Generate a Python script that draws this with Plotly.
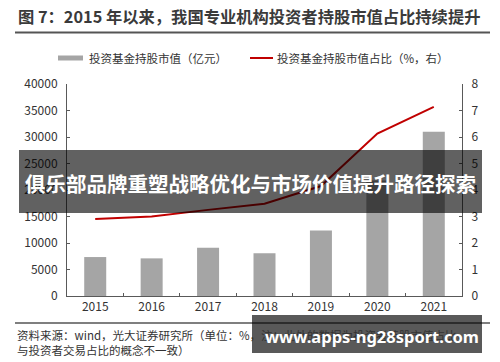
import plotly.graph_objects as go

years = ["2015", "2016", "2017", "2018", "2019", "2020", "2021"]
fund_value = [7350, 7100, 9100, 8050, 12350, 21800, 31000]
fund_share = [2.91, 3.00, 3.25, 3.48, 4.15, 6.13, 7.14]
left_ticks = [0, 5000, 10000, 15000, 20000, 25000, 30000, 35000, 40000]
right_ticks = [0, 1, 2, 3, 4, 5, 6, 7, 8]

title_text = "图 7：2015 年以来，我国专业机构投资者持股市值占比持续提升"
legend_bar = "投资基金持股市值（亿元）"
legend_line = "投资基金持股市值占比（%，右）"
source1 = "资料来源：wind，光大证券研究所（单位：%，注：此处的数据为投资者持股市值占比，"
source2 = "与投资者交易占比的概念不一致）"
banner = "俱乐部品牌重塑战略优化与市场价值提升路径探索"
watermark = "www.apps-ng28sport.com"

W, H = 500, 362
L, R, T, B = 67, 38, 84, 66
PW, PH = W - L - R, H - T - B

def px(x):
    return (x - L) / PW

def py(y):
    return (H - B - y) / PH

FONT = "Noto Sans CJK SC"
TXT = "#333333"
AX = "#595959"

fig = go.Figure()
fig.add_trace(go.Bar(x=years, y=fund_value, marker=dict(color="#a5a5a5", line=dict(width=0)),
                     width=0.39, name=legend_bar, showlegend=False))
fig.add_trace(go.Scatter(x=years, y=fund_share, yaxis="y2", mode="lines",
                         line=dict(color="#c00000", width=2), name=legend_line, showlegend=False))

shapes = []
annotations = []

# title
annotations.append(dict(text="<b>" + title_text + "</b>", x=px(16), y=py(16), xref="paper", yref="paper",
                        xanchor="left", yanchor="middle", showarrow=False,
                        font=dict(family=FONT, size=16.3, color="#3a3a3a")))
shapes.append(dict(type="line", xref="paper", yref="paper", x0=px(15), x1=px(490), y0=py(32.5), y1=py(32.5),
                   line=dict(color="#555555", width=2)))

# legend
shapes.append(dict(type="rect", xref="paper", yref="paper", x0=px(58), x1=px(83), y0=py(55.5), y1=py(60.5),
                   fillcolor="#a5a5a5", line=dict(width=0)))
annotations.append(dict(text=legend_bar, x=px(87), y=py(58), xref="paper", yref="paper",
                        xanchor="left", yanchor="middle", showarrow=False,
                        font=dict(family=FONT, size=11.5, color=TXT)))
shapes.append(dict(type="line", xref="paper", yref="paper", x0=px(250), x1=px(273), y0=py(58), y1=py(58),
                   line=dict(color="#c00000", width=2)))
annotations.append(dict(text=legend_line, x=px(275), y=py(58), xref="paper", yref="paper",
                        xanchor="left", yanchor="middle", showarrow=False,
                        font=dict(family=FONT, size=11.5, color=TXT)))

# bottom rule and source
shapes.append(dict(type="line", xref="paper", yref="paper", x0=px(15), x1=px(490), y0=py(323), y1=py(323),
                   line=dict(color="#555555", width=1.5)))
annotations.append(dict(text=source1, x=px(15), y=py(335), xref="paper", yref="paper",
                        xanchor="left", yanchor="middle", showarrow=False,
                        font=dict(family=FONT, size=11.5, color=TXT)))
annotations.append(dict(text=source2, x=px(15), y=py(350), xref="paper", yref="paper",
                        xanchor="left", yanchor="middle", showarrow=False,
                        font=dict(family=FONT, size=11.5, color=TXT)))

# banner overlay
shapes.append(dict(type="rect", xref="paper", yref="paper", x0=px(19), x1=px(482), y0=py(213), y1=py(150),
                   fillcolor="rgba(0,0,0,0.62)", line=dict(width=0), layer="above"))
annotations.append(dict(text="<b>" + banner + "</b>", x=px(250), y=py(183), xref="paper", yref="paper",
                        xanchor="center", yanchor="middle", showarrow=False,
                        font=dict(family=FONT, size=20.5, color="white")))

# watermark box
shapes.append(dict(type="rect", xref="paper", yref="paper", x0=px(252), x1=px(482), y0=py(353), y1=py(315),
                   fillcolor="rgba(0,0,0,0.65)", line=dict(width=0), layer="above"))
annotations.append(dict(text="<b>" + watermark + "</b>", x=px(372), y=py(336), xref="paper", yref="paper",
                        xanchor="center", yanchor="middle", showarrow=False,
                        font=dict(family="Noto Sans", size=16.5, color="white")))

fig.update_layout(
    width=W, height=H,
    margin=dict(l=L, r=R, t=T, b=B, pad=0),
    paper_bgcolor="white", plot_bgcolor="white",
    showlegend=False,
    font=dict(family=FONT, size=12, color=TXT),
    xaxis=dict(type="category", range=[-0.5, 6.5], tickson="boundaries", ticks="inside", ticklen=3,
               tickcolor=AX, showline=True, linecolor=AX, linewidth=1, showgrid=False,
               tickfont=dict(family=FONT, size=12, color=TXT)),
    yaxis=dict(range=[0, 40000], tickvals=left_ticks, tickformat="d", ticks="inside", ticklen=3, tickcolor=AX,
               showline=True, linecolor=AX, linewidth=1, showgrid=False, zeroline=False,
               ticklabelstandoff=6, tickfont=dict(family=FONT, size=12, color=TXT)),
    yaxis2=dict(range=[0, 8], tickvals=right_ticks, overlaying="y", side="right", ticks="inside",
                ticklen=3, tickcolor=AX, showline=True, linecolor=AX, linewidth=1, showgrid=False,
                zeroline=False, ticklabelstandoff=6, tickfont=dict(family=FONT, size=12, color=TXT)),
    shapes=shapes, annotations=annotations, bargap=0.6,
)

fig.write_html("out.html", config={"displayModeBar": False},
               post_script="document.body.style.margin='0';document.body.style.padding='0';")
